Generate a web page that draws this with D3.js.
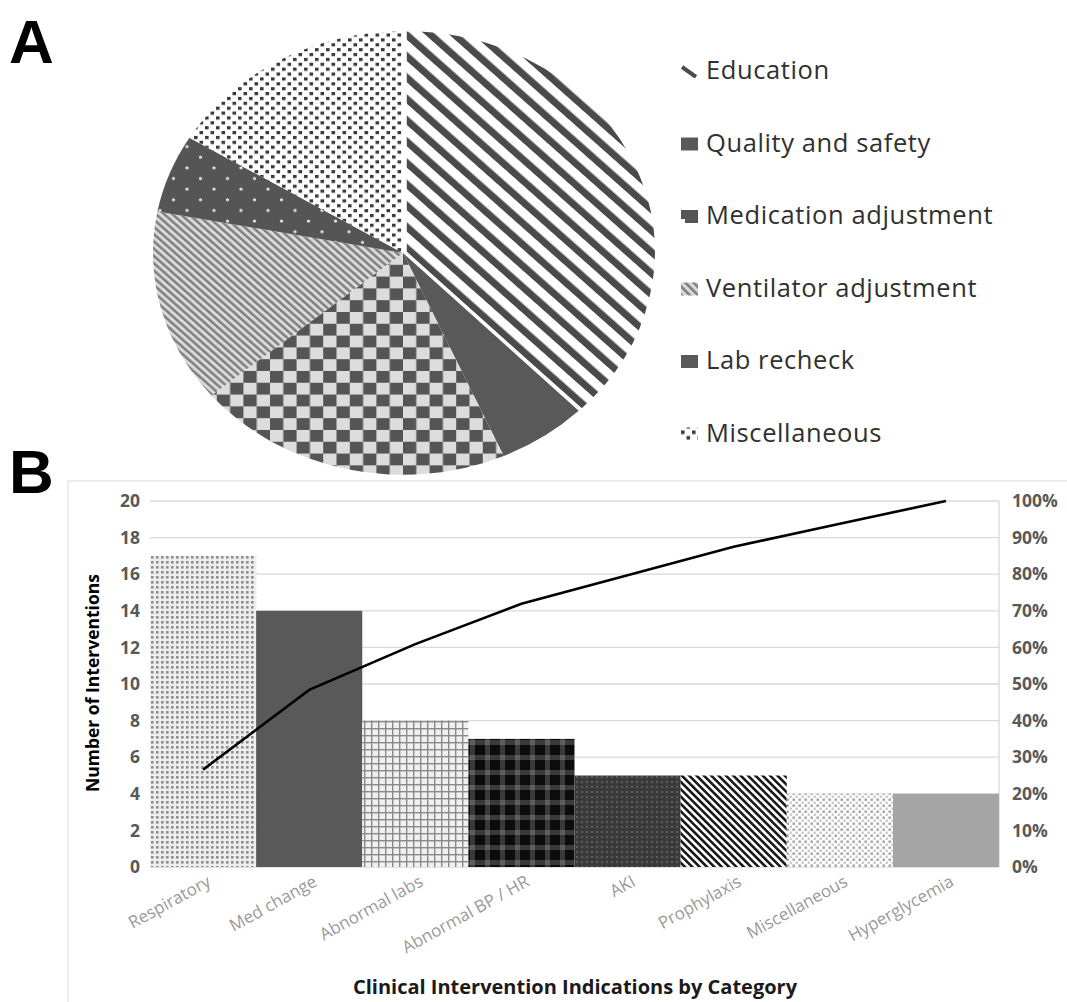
<!DOCTYPE html>
<html>
<head>
<meta charset="utf-8">
<script src="https://cdn.jsdelivr.net/npm/d3@7"></script>
<style>
  body { margin: 0; background: #fff; }
  svg { display: block; font-family: "Open Sans", "DejaVu Sans", sans-serif; }
</style>
</head>
<body>
<svg id="chart" width="1067" height="1002"></svg>
<script>
// ---- data ----
const pieLabels = ["Education", "Quality and safety", "Medication adjustment", "Ventilator adjustment", "Lab recheck", "Miscellaneous"];
const pieValues = [37.6, 5.8, 20.5, 14.1, 5.7, 16.3];
const piePatterns = ["pEdu", "pQual", "pMed", "pVent", "pLab", "pMiscPie"];
const legendSwatch = ["sEdu", "pQual", "sMed", "pVent", "pQual", "pMiscPie"];

const barCategories = ["Respiratory", "Med change", "Abnormal labs", "Abnormal BP / HR", "AKI", "Prophylaxis", "Miscellaneous", "Hyperglycemia"];
const barValues = [17, 14, 8, 7, 5, 5, 4, 4];
const cumulativePct = [26.6, 48.4, 60.9, 71.9, 79.7, 87.5, 93.8, 100];
const barPatterns = ["pResp", "pSolidDark", "pLabs", "pBP", "pAKI", "pProph", "pMiscBar", "pSolidLight"];

const leftTicks = [0, 2, 4, 6, 8, 10, 12, 14, 16, 18, 20];
const rightTicks = [0, 0.1, 0.2, 0.3, 0.4, 0.5, 0.6, 0.7, 0.8, 0.9, 1];

const svg = d3.select("#chart");
svg.append("rect").attr("width", 1067).attr("height", 1002).attr("fill", "#fff");

// ---- patterns ----
const defs = svg.append("defs");

function pattern(id, w, h, bg, transform) {
    const p = defs.append("pattern")
        .attr("id", id)
        .attr("patternUnits", "userSpaceOnUse")
        .attr("width", w)
        .attr("height", h);
    if (transform) p.attr("patternTransform", transform);
    p.append("rect").attr("width", w).attr("height", h).attr("fill", bg);
    return p;
}

// pie: wide diagonal stripes
pattern("pEdu", 17, 17, "#fff", "rotate(-45)")
    .append("rect").attr("x", 0).attr("width", 7.5).attr("height", 17).attr("fill", "#4a4a4a");
pattern("pQual", 10, 10, "#595959");
// checkerboard
const med = pattern("pMed", 26.6, 26.6, "#dcdcdc");
med.append("rect").attr("width", 13.3).attr("height", 13.3).attr("fill", "#555");
med.append("rect").attr("x", 13.3).attr("y", 13.3).attr("width", 13.3).attr("height", 13.3).attr("fill", "#555");
// fine diagonal lines
pattern("pVent", 5.8, 5.8, "#dadada", "rotate(-45)")
    .append("rect").attr("width", 2.6).attr("height", 5.8).attr("fill", "#7e7e7e");
// dark with light dots
const lab = pattern("pLab", 27, 24, "#555");
[[0, 0], [27, 0], [0, 24], [27, 24], [13.5, 12]].forEach(([x, y]) =>
    lab.append("circle").attr("cx", x).attr("cy", y).attr("r", 1.7).attr("fill", "#e4e4e4"));
// white with dark dots
const mp = pattern("pMiscPie", 11, 11, "#fff");
mp.append("rect").attr("x", 0).attr("y", 0).attr("width", 3.6).attr("height", 3.6).attr("fill", "#3a3a3a");
mp.append("rect").attr("x", 5.5).attr("y", 5.5).attr("width", 3.6).attr("height", 3.6).attr("fill", "#3a3a3a");

// legend swatch variants
const se = pattern("sEdu", 17, 13, "#fff");
se.attr("y", -14);
se.append("line").attr("x1", 1).attr("y1", 2).attr("x2", 15).attr("y2", 12)
    .attr("stroke", "#4a4a4a").attr("stroke-width", 4);
const sm = pattern("sMed", 17, 13, "#555");
sm.attr("y", -14);
sm.append("rect").attr("x", 0).attr("y", 9).attr("width", 4).attr("height", 4).attr("fill", "#fff");

// bars
const resp = pattern("pResp", 5, 5, "#eeeeee");
resp.append("rect").attr("x", 1).attr("y", 1).attr("width", 2.6).attr("height", 2.6).attr("fill", "#8f8f8f");
pattern("pSolidDark", 10, 10, "#595959");
const labs = pattern("pLabs", 7, 7, "#f0f0f0");
labs.append("rect").attr("width", 7).attr("height", 1.4).attr("fill", "#8a8a8a");
labs.append("rect").attr("width", 1.4).attr("height", 7).attr("fill", "#8a8a8a");
const bp = pattern("pBP", 15, 15, "#0c0c0c");
bp.append("rect").attr("y", 5).attr("width", 15).attr("height", 5).attr("fill", "#3a3a3a");
bp.append("rect").attr("x", 5).attr("width", 5).attr("height", 15).attr("fill", "#3a3a3a");
bp.append("rect").attr("x", 5).attr("y", 5).attr("width", 5).attr("height", 5).attr("fill", "#5e5e5e");
const aki = pattern("pAKI", 5, 5, "#3a3a3a");
aki.append("rect").attr("x", 1).attr("y", 1).attr("width", 2).attr("height", 2).attr("fill", "#5c5c5c");
pattern("pProph", 5.2, 5.2, "#fff", "rotate(-45)")
    .append("rect").attr("width", 2.6).attr("height", 5.2).attr("fill", "#1a1a1a");
const mb = pattern("pMiscBar", 6, 6, "#fff");
mb.append("rect").attr("x", 0.5).attr("y", 0.5).attr("width", 2.4).attr("height", 2.4).attr("fill", "#a0a0a0");
mb.append("rect").attr("x", 3.5).attr("y", 3.5).attr("width", 2.4).attr("height", 2.4).attr("fill", "#c8c8c8");
pattern("pSolidLight", 10, 10, "#a5a5a5");

// ---- panel labels ----
svg.append("text").attr("x", 9).attr("y", 63).text("A")
    .attr("font-family", "Liberation Sans, Arial, sans-serif").attr("font-weight", "bold").attr("font-size", 62).attr("fill", "#000");
svg.append("text").attr("x", 9).attr("y", 493).text("B")
    .attr("font-family", "Liberation Sans, Arial, sans-serif").attr("font-weight", "bold").attr("font-size", 62).attr("fill", "#000");

// ---- pie (A) ----
const pieG = svg.append("g").attr("transform", "translate(403,253) scale(1,0.887)");
const pie = d3.pie().sort(null).value(d => d);
const arc = d3.arc().innerRadius(0).outerRadius(250);
const arcs = pie(pieValues);

pieG.selectAll("path.slice")
    .data(arcs)
    .join("path")
    .attr("class", "slice")
    .attr("d", arc)
    .attr("fill", (d, i) => `url(#${piePatterns[i]})`)
    .attr("stroke", (d, i) => i === 0 ? "#fff" : "none")
    .attr("stroke-width", 2)
    .attr("transform", (d, i) => {
        if (i !== 0) return null;
        const mid = (d.startAngle + d.endAngle) / 2;
        return `translate(${3 * Math.sin(mid)},${-3 * Math.cos(mid)})`;
    });

// legend
const legend = svg.append("g");
const legendItems = legend.selectAll("g")
    .data(pieLabels)
    .join("g")
    .attr("transform", (d, i) => `translate(681,${79 + i * 72.5})`);
legendItems.append("rect")
    .attr("x", 0).attr("y", -14).attr("width", 17).attr("height", 13)
    .attr("fill", (d, i) => `url(#${legendSwatch[i]})`);
legendItems.append("text")
    .attr("x", 25).attr("y", 0)
    .attr("font-size", 25.5)
    .attr("letter-spacing", 0.6)
    .attr("fill", "#303030")
    .text(d => d);

// ---- pareto (B) ----
// chart frame
svg.append("rect")
    .attr("x", 68).attr("y", 481).attr("width", 1020).attr("height", 540)
    .attr("fill", "none").attr("stroke", "#d9d9d9").attr("stroke-width", 1);

const plot = { left: 150, right: 999, top: 501, bottom: 867 };
const x = d3.scaleBand().domain(barCategories).range([plot.left, plot.right]).padding(0);
const y = d3.scaleLinear().domain([0, 20]).range([plot.bottom, plot.top]);
const y2 = d3.scaleLinear().domain([0, 1]).range([plot.bottom, plot.top]);

// gridlines
svg.append("g")
    .selectAll("line")
    .data(leftTicks)
    .join("line")
    .attr("x1", plot.left).attr("x2", plot.right)
    .attr("y1", d => y(d)).attr("y2", d => y(d))
    .attr("stroke", "#d9d9d9").attr("stroke-width", 1.3);

svg.append("line")
    .attr("x1", plot.right).attr("x2", plot.right)
    .attr("y1", plot.top).attr("y2", plot.bottom)
    .attr("stroke", "#d9d9d9").attr("stroke-width", 1.3);

// bars
svg.append("g")
    .selectAll("rect")
    .data(barValues)
    .join("rect")
    .attr("x", (d, i) => x(barCategories[i]))
    .attr("y", d => y(d))
    .attr("width", x.bandwidth())
    .attr("height", d => y(0) - y(d))
    .attr("fill", (d, i) => `url(#${barPatterns[i]})`);

// cumulative line
const line = d3.line()
    .x((d, i) => x(barCategories[i]) + x.bandwidth() / 2)
    .y(d => y2(d / 100));
svg.append("path")
    .datum(cumulativePct)
    .attr("d", line)
    .attr("fill", "none")
    .attr("stroke", "#000")
    .attr("stroke-width", 2.6);

// axes
const leftAxis = svg.append("g")
    .attr("transform", `translate(${plot.left},0)`)
    .call(d3.axisLeft(y).tickValues(leftTicks).tickSize(0).tickPadding(10));
const rightAxis = svg.append("g")
    .attr("transform", `translate(${plot.right},0)`)
    .call(d3.axisRight(y2).tickValues(rightTicks).tickSize(0).tickPadding(13).tickFormat(d3.format(".0%")));
[leftAxis, rightAxis].forEach(a => {
    a.select(".domain").remove();
    a.selectAll("text")
        .attr("font-family", "Open Sans, sans-serif")
        .attr("font-size", 17.5)
        .attr("font-weight", "bold")
        .attr("fill", "#595959");
});

const bottomAxis = svg.append("g")
    .attr("transform", `translate(0,${plot.bottom})`)
    .call(d3.axisBottom(x).tickSize(0));
bottomAxis.select(".domain").remove();
bottomAxis.selectAll("text")
    .attr("y", 0)
    .attr("dy", 0)
    .attr("transform", "translate(9,18) rotate(-29)")
    .attr("text-anchor", "end")
    .attr("font-family", "Open Sans, sans-serif")
    .attr("font-size", 17)
    .attr("fill", "#9a9a9a");

// axis titles
svg.append("text")
    .attr("transform", `translate(99,683) rotate(-90)`)
    .attr("text-anchor", "middle")
    .attr("font-size", 17.5)
    .attr("font-weight", "bold")
    .attr("fill", "#000")
    .text("Number of Interventions");

svg.append("text")
    .attr("x", 575).attr("y", 994)
    .attr("text-anchor", "middle")
    .attr("font-size", 20)
    .attr("font-weight", "bold")
    .attr("fill", "#1a1a1a")
    .text("Clinical Intervention Indications by Category");
</script>
</body>
</html>
